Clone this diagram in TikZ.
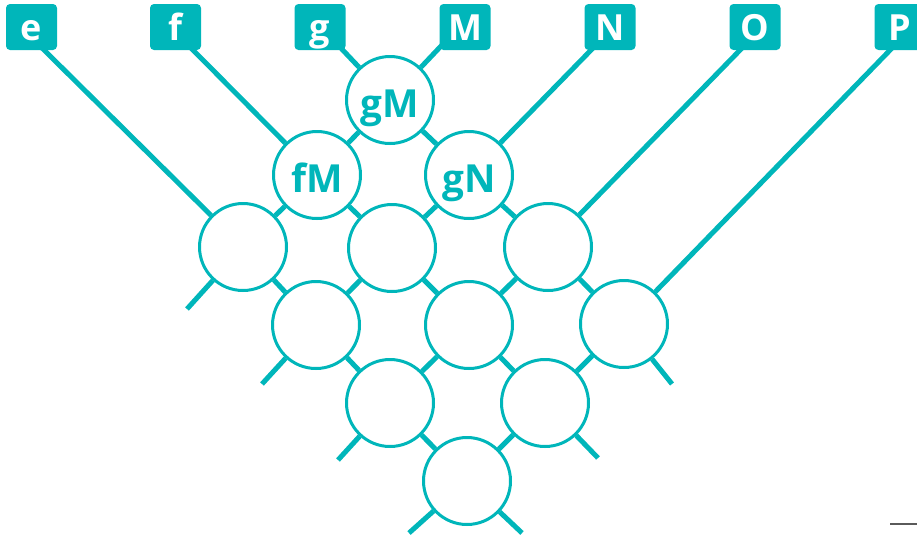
\documentclass[tikz,border=0pt]{standalone}
\usepackage{fontspec}
\setmainfont{Open Sans}
\definecolor{tealc}{RGB}{0,182,186}
\definecolor{artgray}{RGB}{90,90,90}
\pgfdeclarelayer{bg}
\pgfsetlayers{bg,main}
\begin{document}
\begin{tikzpicture}[x=0.75pt,y=-0.75pt,
  lbl/.style={fill=tealc, rounded corners=3pt, minimum width=38.25pt, minimum height=34.5pt,
    inner sep=0pt, text=white, text height=19.5pt, text depth=0pt,
    font=\fontsize{27}{27}\selectfont\bfseries},
  cell/.style={circle, draw=tealc, line width=2.25pt, fill=white, minimum size=65.25pt,
    inner sep=0pt, text=tealc, text height=25.5pt, text depth=0pt,
    font=\fontsize{29}{29}\selectfont\bfseries},
  wire/.style={draw=tealc, line width=3.75pt},
  artline/.style={draw=artgray, line width=1.2pt}]
\useasboundingbox (0,0) rectangle (917,536);
% labels
\node[lbl] (e) at (31.5,27) {e};
\node[lbl] (f) at (175.5,27) {f};
\node[lbl] (g) at (320,27) {g};
\node[lbl] (M) at (465,27) {M};
\node[lbl] (N) at (610,27) {N};
\node[lbl] (O) at (755,27) {O};
\node[lbl] (P) at (900,27) {P};
% cells
\node[cell] (gM) at (390,100) {gM};
\node[cell] (fM) at (317,175) {fM};
\node[cell] (gN) at (469,175) {gN};
\node[cell] (eM) at (243,247) {};
\node[cell] (fN) at (392,248) {};
\node[cell] (gO) at (548,247) {};
\node[cell] (eN) at (316,325) {};
\node[cell] (fO) at (469,325) {};
\node[cell] (gP) at (624,324) {};
\node[cell] (eO) at (390,403) {};
\node[cell] (fP) at (545,403) {};
\node[cell] (eP) at (467,481) {};
% start and end points
\coordinate (e0) at (39,45);
\coordinate (f0) at (188,45);
\coordinate (g0) at (338,45);
\coordinate (M0) at (442,45);
\coordinate (N0) at (596,45);
\coordinate (O0) at (745,45);
\coordinate (P0) at (895,45);
\coordinate (e1) at (522,533);
\coordinate (f1) at (598,458);
\coordinate (g1) at (672,384);
\coordinate (M1) at (187,309);
\coordinate (N1) at (262,384);
\coordinate (O1) at (338,460);
\coordinate (P1) at (409,533);
\begin{pgfonlayer}{bg}
\draw[wire] (e0) -- (eM) -- (eN) -- (eO) -- (eP) -- (e1);
\draw[wire] (f0) -- (fM) -- (fN) -- (fO) -- (fP) -- (f1);
\draw[wire] (g0) -- (gM) -- (gN) -- (gO) -- (gP) -- (g1);
\draw[wire] (M0) -- (gM) -- (fM) -- (eM) -- (M1);
\draw[wire] (N0) -- (gN) -- (fN) -- (eN) -- (N1);
\draw[wire] (O0) -- (gO) -- (fO) -- (eO) -- (O1);
\draw[wire] (P0) -- (gP) -- (fP) -- (eP) -- (P1);
\end{pgfonlayer}
\draw[artline] (890,524) -- (917,524);
\end{tikzpicture}
\end{document}
